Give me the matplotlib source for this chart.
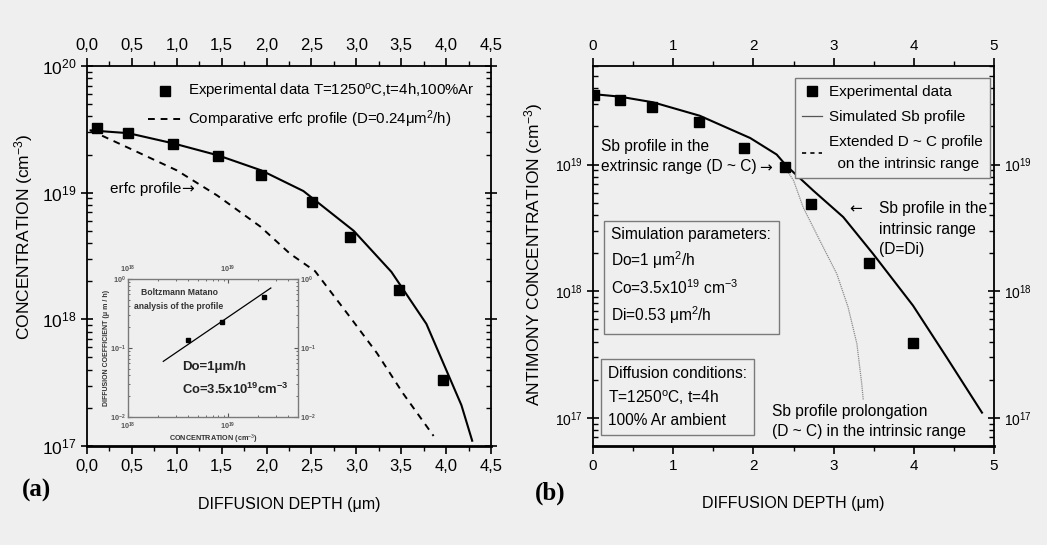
import matplotlib
matplotlib.use('Agg')
import matplotlib.pyplot as plt
from matplotlib.ticker import MultipleLocator, FuncFormatter, LogLocator
from matplotlib.lines import Line2D
import numpy as np

# ---- panel (a) data ----
exp_depth_a = [0.11, 0.46, 0.96, 1.46, 1.94, 2.51, 2.93, 3.48, 3.96]
exp_conc_a = [3.26e19, 2.96e19, 2.44e19, 1.96e19, 1.38e19, 8.4e18, 4.5e18, 1.7e18, 3.3e17]
sim_depth_a = [0.04, 0.46, 0.96, 1.46, 1.94, 2.41, 2.97, 3.39, 3.78, 4.17, 4.29]
sim_conc_a = [3.1e19, 2.95e19, 2.45e19, 1.97e19, 1.5e19, 1.03e19, 5.0e18, 2.37e18, 9.2e17, 2.1e17, 1.1e17]
erfc_depth = [0.04, 0.52, 1.0, 1.45, 1.93, 2.26, 2.54, 2.93, 3.23, 3.52, 3.86]
erfc_conc = [3.1e19, 2.16e19, 1.5e19, 9.5e18, 5.4e18, 3.3e18, 2.4e18, 1.04e18, 5.4e17, 2.6e17, 1.2e17]

# inset: Boltzmann-Matano analysis
bm_conc = [4.0e18, 8.6e18, 2.3e19]
bm_diff = [0.129, 0.235, 0.54]
bm_fit_conc = [2.25e18, 2.67e19]
bm_fit_diff = [0.064, 0.74]

# ---- panel (b) data ----
exp_depth_b = [0.01, 0.34, 0.74, 1.32, 1.88, 2.39, 2.72, 3.44, 3.99]
exp_conc_b = [3.56e19, 3.24e19, 2.83e19, 2.17e19, 1.35e19, 9.5e18, 4.84e18, 1.68e18, 3.93e17]
sim_depth_b = [0.0, 0.33, 0.75, 1.33, 1.96, 2.29, 2.41, 2.75, 3.12, 3.49, 3.99, 4.41, 4.85]
sim_conc_b = [3.6e19, 3.44e19, 3.1e19, 2.43e19, 1.62e19, 1.2e19, 9.8e18, 6.2e18, 3.85e18, 1.98e18, 7.7e17, 3.0e17, 1.1e17]
prol_depth = [2.39, 2.50, 2.62, 2.83, 3.04, 3.18, 3.29, 3.35, 3.37]
prol_conc = [9.5e18, 7.5e18, 4.6e18, 2.5e18, 1.37e18, 7.5e17, 3.85e17, 1.87e17, 1.38e17]

BG = '#efefef'
FONT = ['Liberation Sans', 'DejaVu Sans']
plt.rcParams['font.family'] = FONT
plt.rcParams['mathtext.fontset'] = 'custom'
plt.rcParams['mathtext.rm'] = 'Liberation Sans'
plt.rcParams['mathtext.it'] = 'Liberation Sans:italic'
plt.rcParams['mathtext.bf'] = 'Liberation Sans:bold'

fig = plt.figure(figsize=(10.47, 5.45), dpi=100, facecolor=BG)

def style_axes(ax, lab_size_x, lab_size_y):
    ax.set_facecolor(BG)
    for s in ax.spines.values():
        s.set_linewidth(1.3)
    ax.spines['bottom'].set_linewidth(2.0)
    ax.tick_params(axis='x', which='both', top=True, labeltop=True, labelsize=lab_size_x)
    ax.tick_params(axis='x', which='major', direction='out', length=6, width=1.2)
    ax.tick_params(axis='x', which='minor', direction='out', length=3.5, width=1.0)
    ax.tick_params(axis='y', which='both', right=True, labelsize=lab_size_y)
    ax.tick_params(axis='y', which='major', direction='inout', length=8, width=1.2)
    ax.tick_params(axis='y', which='minor', direction='in', length=3.5, width=1.0)
    ax.yaxis.set_minor_locator(LogLocator(base=10, subs=np.arange(2, 10)))

def arrow(ax, x, y, char, size=12):
    # the arrow glyph of Liberation Sans is tiny, take DejaVu's
    ax.text(x, y, char, transform=ax.transAxes, fontsize=size, va='center', ha='left',
            family='DejaVu Sans')

# ---------------- panel (a) ----------------
ax1 = fig.add_axes([0.0831, 0.1817, 0.3859, 0.6972])
style_axes(ax1, 12, 12.5)
ax1.set_yscale('log')
ax1.set_xlim(0, 4.5)
ax1.set_ylim(1e17, 1e20)
ax1.xaxis.set_major_locator(MultipleLocator(0.5))
ax1.xaxis.set_minor_locator(MultipleLocator(0.25))
ax1.xaxis.set_major_formatter(FuncFormatter(lambda v, p: f'{v:.1f}'.replace('.', ',')))
ax1.yaxis.set_minor_locator(LogLocator(base=10, subs=np.arange(2, 10)))

ax1.plot(sim_depth_a, sim_conc_a, color='black', lw=1.5)
ax1.plot(erfc_depth, erfc_conc, color='black', lw=1.4, ls=(0, (3.5, 3)),
         label='Comparative erfc profile (D=0.24\u03bcm$^2$/h)')
ax1.plot(exp_depth_a, exp_conc_a, 's', color='black', ms=6.5,
         label='Experimental data T=1250$^\\mathrm{o}$C,t=4h,100%Ar')
h, l = ax1.get_legend_handles_labels()
ax1.legend(h[::-1], l[::-1], loc='upper right', bbox_to_anchor=(0.985, 0.985), frameon=False,
           fontsize=10.8, handlelength=2.3, handletextpad=0.35, labelspacing=0.5,
           borderaxespad=0.3)
ax1.text(0.057, 0.676, 'erfc profile', transform=ax1.transAxes, fontsize=11,
         va='center', ha='left')
arrow(ax1, 0.234, 0.676, '\u2192', 11)

ax1.set_xlabel('DIFFUSION DEPTH (\u03bcm)', fontsize=11.5)
ax1.set_ylabel('CONCENTRATION (cm$^{-3}$)', fontsize=12.5)
ax1.xaxis.set_label_coords(0.5, -0.135)
ax1.yaxis.set_label_coords(-0.128, 0.55)

# inset
axi = fig.add_axes([0.1223, 0.2349, 0.1624, 0.2532])
axi.set_facecolor(BG)
axi.set_xscale('log')
axi.set_yscale('log')
axi.set_xlim(1e18, 5e19)
axi.set_ylim(1e-2, 1)
for s in axi.spines.values():
    s.set_color('#7a7a7a')
    s.set_linewidth(1.0)
axi.tick_params(which='both', top=True, right=True, labeltop=True, labelright=True,
                labelsize=5.2, colors='#555555', direction='in', pad=1.5)
axi.tick_params(axis='x', which='both', pad=3)
axi.tick_params(which='major', length=3)
axi.tick_params(which='minor', length=1.5)
for t in axi.get_xticklabels() + axi.get_yticklabels():
    t.set_fontweight('bold')
axi.plot(bm_fit_conc, bm_fit_diff, color='black', lw=0.9)
axi.plot(bm_conc, bm_diff, 's', color='black', ms=3.2)
axi.text(0.30, 0.85, 'Boltzmann Matano\nanalysis of the profile', transform=axi.transAxes,
         fontsize=6.2, fontweight='bold', ha='center', va='center', color='#333333', linespacing=1.7)
axi.text(0.32, 0.36, 'Do=1\u03bcm/h', transform=axi.transAxes, fontsize=9.5,
         fontweight='bold', ha='left', va='center', color='#222222')
axi.text(0.32, 0.20, 'Co=3.5x10$^{\\mathbf{19}}$cm$^{\\mathbf{-3}}$', transform=axi.transAxes,
         fontsize=9.4, fontweight='bold', ha='left', va='center', color='#222222')
axi.set_xlabel('CONCENTRATION (cm$^{-3}$)', fontsize=5.2, fontweight='bold', labelpad=0, color='#333333')
axi.set_ylabel('DIFFUSION COEFFICIENT (\u03bc m / h)', fontsize=5.0, fontweight='bold',
               labelpad=0, color='#333333')

fig.text(22 / 1047, 1 - 490 / 545, '(a)', family='Liberation Serif', fontweight='bold',
         fontsize=18, va='center', ha='left')

# ---------------- panel (b) ----------------
ax2 = fig.add_axes([0.5664, 0.1817, 0.3830, 0.6972])
style_axes(ax2, 11, 10)
ax2.set_yscale('log')
ax2.set_xlim(0, 5)
ax2.set_ylim(6e16, 6e19)
ax2.xaxis.set_major_locator(MultipleLocator(1))
ax2.xaxis.set_minor_locator(MultipleLocator(0.5))
ax2.tick_params(axis='y', labelright=True)
ax2.yaxis.set_minor_locator(LogLocator(base=10, subs=np.arange(2, 10)))

ax2.plot(prol_depth, prol_conc, color='#8a8a8a', lw=0.9, ls=(0, (1, 0.7)))
ax2.plot(sim_depth_b, sim_conc_b, color='black', lw=1.5)
ax2.plot(exp_depth_b, exp_conc_b, 's', color='black', ms=6.5)

handles = [Line2D([], [], ls='none', marker='s', color='black', ms=6.5),
           Line2D([], [], color='#555555', lw=0.9),
           Line2D([], [], color='black', lw=1.2, ls=(0, (2.5, 2.5)))]
labels = ['Experimental data', 'Simulated Sb profile',
          'Extended D ~ C profile\n  on the intrinsic range']
leg = ax2.legend(handles, labels, loc='upper right', bbox_to_anchor=(0.99, 0.968), fontsize=11.0,
                 handlelength=1.3, handletextpad=0.5, labelspacing=0.72, borderpad=0.45,
                 borderaxespad=0, fancybox=False, framealpha=1, facecolor=BG, edgecolor='#7a7a7a')
leg.get_frame().set_linewidth(1.0)
for t in leg.get_texts():
    t.set_linespacing(1.7)

ax2.text(0.02, 0.762, 'Sb profile in the\nextrinsic range (D ~ C)', transform=ax2.transAxes,
         fontsize=11.2, va='center', ha='left', linespacing=1.45)
arrow(ax2, 0.414, 0.732, '\u2192', 11)
arrow(ax2, 0.64, 0.624, '\u2190', 11)
ax2.text(0.713, 0.571, 'Sb profile in the\nintrinsic range\n(D=Di)', transform=ax2.transAxes,
         fontsize=11.2, va='center', ha='left', linespacing=1.45)
ax2.text(0.046, 0.447, 'Simulation parameters:\nDo=1 \u03bcm$^2$/h\nCo=3.5x10$^{19}$ cm$^{-3}$\nDi=0.53 \u03bcm$^2$/h',
         transform=ax2.transAxes, fontsize=11.2, va='center', ha='left', linespacing=1.45,
         bbox=dict(boxstyle='square,pad=0.5', fc='none', ec='#7a7a7a', lw=1.0))
ax2.text(0.038, 0.13, 'Diffusion conditions:\nT=1250$^\\mathrm{o}$C, t=4h\n100% Ar ambient',
         transform=ax2.transAxes, fontsize=11.2, va='center', ha='left', linespacing=1.5,
         bbox=dict(boxstyle='square,pad=0.45', fc='none', ec='#7a7a7a', lw=1.0))
ax2.text(0.446, 0.064, 'Sb profile prolongation\n(D ~ C) in the intrinsic range', transform=ax2.transAxes,
         fontsize=11.2, va='center', ha='left', linespacing=1.45)

ax2.set_xlabel('DIFFUSION DEPTH (\u03bcm)', fontsize=11.5)
ax2.set_ylabel('ANTIMONY CONCENTRATION (cm$^{-3}$)', fontsize=12.5)
ax2.xaxis.set_label_coords(0.5, -0.132)
ax2.yaxis.set_label_coords(-0.12, 0.505)

fig.text(535 / 1047, 1 - 493 / 545, '(b)', family='Liberation Serif', fontweight='bold',
         fontsize=18, va='center', ha='left')

fig.savefig('out.png', dpi=100, facecolor=BG)
